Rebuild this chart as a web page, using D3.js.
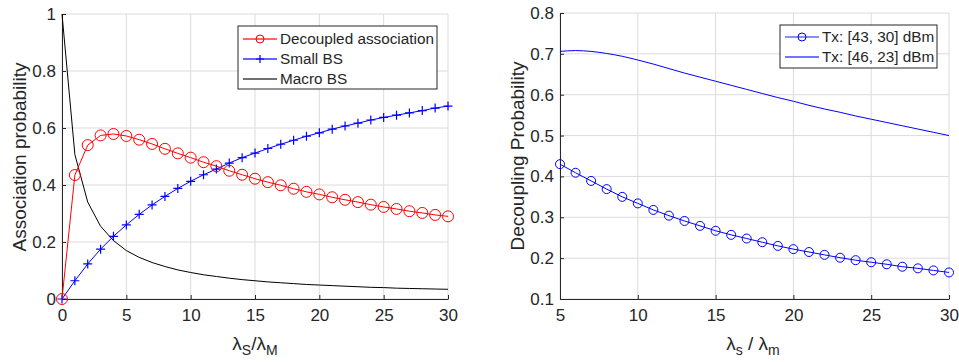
<!DOCTYPE html>
<html>
<head>
<meta charset="utf-8">
<script src="https://cdn.jsdelivr.net/npm/d3@7"></script>
<style>
  body { margin: 0; background: #fff; }
  svg text { font-family: "Liberation Sans", Arial, sans-serif; fill: #262626; }
</style>
</head>
<body>
<div id="chart"></div>
<script>
// data
var ratioLeft = d3.range(0, 31);
var decoupled = [0, 0.435, 0.54, 0.574, 0.579, 0.572, 0.559, 0.544, 0.527, 0.511, 0.496,
  0.48, 0.466, 0.45, 0.436, 0.422, 0.41, 0.399, 0.387, 0.376, 0.367,
  0.357, 0.348, 0.34, 0.331, 0.323, 0.316, 0.308, 0.302, 0.295, 0.29];
var smallBS = [0, 0.064, 0.123, 0.175, 0.22, 0.26, 0.297, 0.33, 0.36, 0.388, 0.413,
  0.436, 0.456, 0.477, 0.496, 0.512, 0.528, 0.543, 0.557, 0.571, 0.583,
  0.596, 0.607, 0.617, 0.628, 0.637, 0.645, 0.653, 0.661, 0.67, 0.677];
var macroBS = [1.0, 0.507, 0.34, 0.255, 0.205, 0.17, 0.146, 0.128, 0.114, 0.102, 0.093,
  0.085, 0.079, 0.073, 0.068, 0.064, 0.06, 0.057, 0.054, 0.051, 0.049,
  0.047, 0.045, 0.043, 0.041, 0.04, 0.038, 0.037, 0.036, 0.035, 0.034];

var ratioRight = d3.range(5, 31);
var tx4330 = [0.43, 0.409, 0.389, 0.369, 0.35, 0.334, 0.318, 0.304, 0.291, 0.279,
  0.267, 0.257, 0.248, 0.239, 0.23, 0.222, 0.215, 0.208, 0.201, 0.195,
  0.19, 0.185, 0.179, 0.175, 0.17, 0.165];
var tx4623 = [0.706, 0.708, 0.706, 0.701, 0.694, 0.685, 0.675, 0.664, 0.653, 0.643,
  0.633, 0.623, 0.613, 0.603, 0.593, 0.584, 0.574, 0.565, 0.557, 0.548,
  0.54, 0.532, 0.524, 0.516, 0.508, 0.5];

var leftXTicks = [0, 5, 10, 15, 20, 25, 30];
var leftYTicks = [0, 0.2, 0.4, 0.6, 0.8, 1];
var rightXTicks = [5, 10, 15, 20, 25, 30];
var rightYTicks = [0.1, 0.2, 0.3, 0.4, 0.5, 0.6, 0.7, 0.8];

var width = 959, height = 362;
var svg = d3.select("#chart").append("svg").attr("width", width).attr("height", height);

// draws grid + axes (box off, like matlab) and returns scales
function panel(x0, x1, y0, y1, xdom, ydom, xt, yt, fmt) {
  var x = d3.scaleLinear().domain(xdom).range([x0, x1]);
  var y = d3.scaleLinear().domain(ydom).range([y1, y0]);
  var g = svg.append("g");
  g.selectAll(".gx").data(xt).enter().append("line")
    .attr("x1", x).attr("x2", x).attr("y1", y0).attr("y2", y1)
    .attr("stroke", "#dcdcdc").attr("stroke-width", 1);
  g.selectAll(".gy").data(yt).enter().append("line")
    .attr("y1", y).attr("y2", y).attr("x1", x0).attr("x2", x1)
    .attr("stroke", "#dcdcdc").attr("stroke-width", 1);

  var ax = g.append("g").attr("transform", "translate(0," + y1 + ")")
    .call(d3.axisBottom(x).tickValues(xt).tickSize(-4).tickPadding(10).tickSizeOuter(0));
  var ay = g.append("g").attr("transform", "translate(" + x0 + ",0)")
    .call(d3.axisLeft(y).tickValues(yt).tickFormat(fmt).tickSize(-4).tickPadding(6).tickSizeOuter(0));
  [ax, ay].forEach(function (a) {
    a.select(".domain").attr("stroke", "#262626");
    a.selectAll(".tick line").attr("stroke", "#262626");
    a.selectAll("text").style("font-size", "17px").attr("fill", "#262626");
  });
  return {x: x, y: y};
}

function series(s, xs, ys, color, marker, r, curve) {
  var line = d3.line().x(function (d, i) { return s.x(xs[i]); }).y(function (d) { return s.y(d); });
  if (curve) line.curve(curve);
  svg.append("path").datum(ys).attr("d", line)
    .attr("fill", "none").attr("stroke", color).attr("stroke-width", 1);
  var pts = ys.map(function (d, i) { return [s.x(xs[i]), s.y(d)]; });
  if (marker === "o") {
    svg.append("g").selectAll("circle").data(pts).enter().append("circle")
      .attr("cx", function (p) { return p[0]; }).attr("cy", function (p) { return p[1]; })
      .attr("r", r).attr("fill", "none").attr("stroke", color).attr("stroke-width", 1);
  } else if (marker === "+") {
    svg.append("g").selectAll("path").data(pts).enter().append("path")
      .attr("d", function (p) {
        return "M" + (p[0] - r) + "," + p[1] + "H" + (p[0] + r) + "M" + p[0] + "," + (p[1] - r) + "V" + (p[1] + r);
      })
      .attr("stroke", color).attr("stroke-width", 1.2);
  }
}

function legend(x, y, w, h, items, fs) {
  var g = svg.append("g");
  g.append("rect").attr("x", x).attr("y", y).attr("width", w).attr("height", h)
    .attr("fill", "#fff").attr("stroke", "#262626").attr("stroke-width", 1);
  items.forEach(function (it, i) {
    var cy = y + it.dy;
    g.append("line").attr("x1", x + 5).attr("x2", x + 39).attr("y1", cy).attr("y2", cy)
      .attr("stroke", it.color).attr("stroke-width", it.lw || 1).attr("stroke-opacity", it.op || 1);
    if (it.marker === "o") {
      g.append("circle").attr("cx", x + 22).attr("cy", cy).attr("r", it.r)
        .attr("fill", "none").attr("stroke", it.color);
    } else if (it.marker === "+") {
      g.append("path").attr("d", "M" + (x + 18) + "," + cy + "H" + (x + 26) + "M" + (x + 22) + "," + (cy - 4) + "V" + (cy + 4))
        .attr("stroke", it.color).attr("stroke-width", 1.2);
    }
    g.append("text").attr("x", x + 42).attr("y", cy).attr("dy", "0.35em")
      .style("font-size", fs + "px").text(it.label);
  });
}

// left panel
var L = panel(62, 448, 14, 299, [0, 30], [0, 1], leftXTicks, leftYTicks, d3.format("~g"));
series(L, ratioLeft, macroBS, "#000000", null, 0);
series(L, ratioLeft, smallBS, "#0000ff", "+", 4.5);
series(L, ratioLeft, decoupled, "#ff0000", "o", 5.5);

svg.append("text").attr("transform", "translate(26,157) rotate(-90)")
  .attr("text-anchor", "middle").style("font-size", "19px").text("Association probability");
var xl = svg.append("text").attr("x", 255).attr("y", 350).attr("text-anchor", "middle").style("font-size", "19px");
xl.append("tspan").text("\u03bb");
xl.append("tspan").attr("dy", 5).style("font-size", "14px").text("S");
xl.append("tspan").attr("dy", -5).text("/\u03bb");
xl.append("tspan").attr("dy", 5).style("font-size", "14px").text("M");

legend(238, 26, 199, 63, [
  {label: "Decoupled association", color: "#ff0000", marker: "o", r: 4, dy: 13, lw: 1.3, op: 0.8},
  {label: "Small BS", color: "#0000ff", marker: "+", dy: 33, lw: 1.3, op: 0.8},
  {label: "Macro BS", color: "#000000", dy: 53, lw: 1.3, op: 0.75}
], 15.3);

// right panel
var R = panel(560, 949, 13, 299, [5, 30], [0.1, 0.8], rightXTicks, rightYTicks, d3.format(".1f"));
series(R, ratioRight, tx4623, "#0000ff", null, 0, d3.curveMonotoneX);
series(R, ratioRight, tx4330, "#0000ff", "o", 4.5);

svg.append("text").attr("transform", "translate(524,156) rotate(-90)")
  .attr("text-anchor", "middle").style("font-size", "19px").text("Decoupling Probability");
var xr = svg.append("text").attr("x", 753).attr("y", 350).attr("text-anchor", "middle").style("font-size", "19px");
xr.append("tspan").text("\u03bb");
xr.append("tspan").attr("dy", 5).style("font-size", "14px").text("s");
xr.append("tspan").attr("dy", -5).text(" / \u03bb");
xr.append("tspan").attr("dy", 5).style("font-size", "14px").text("m");

legend(780, 25, 157, 43, [
  {label: "Tx: [43, 30] dBm", color: "#0000ff", marker: "o", r: 4, dy: 12, lw: 1.2, op: 0.9},
  {label: "Tx: [46, 23] dBm", color: "#0000ff", dy: 32, lw: 2, op: 0.55}
], 15.3);
</script>
</body>
</html>
